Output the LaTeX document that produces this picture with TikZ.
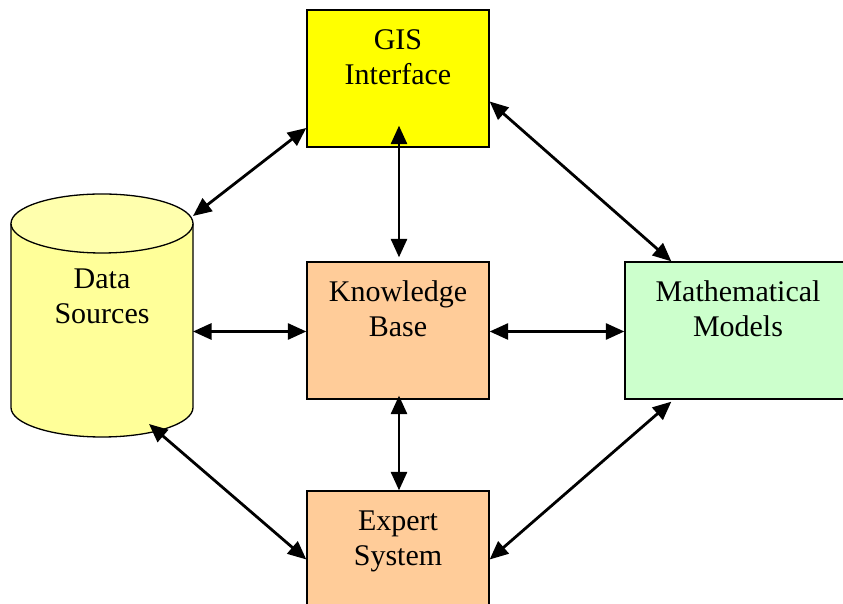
\documentclass[tikz,border=0pt]{standalone}
\usepackage{fontspec}
\setmainfont{Liberation Serif}
\usetikzlibrary{arrows.meta,calc}
\definecolor{gisyellow}{HTML}{FFFF00}
\definecolor{peach}{HTML}{FFCC99}
\definecolor{mint}{HTML}{CCFFCC}
\definecolor{paleyellow}{HTML}{FFFF99}
\tikzset{
  box/.style={draw=black, line width=1.3pt, rectangle, minimum width=182pt,
    minimum height=137pt, inner sep=0pt},
  lbl/.style={font=\fontsize{30pt}{35pt}\selectfont, align=center, inner sep=0pt, anchor=base},
  link/.style={line width=2.8pt, {Triangle[length=18.5pt,width=16pt]}-{Triangle[length=18.5pt,width=16pt]}}
}
\begin{document}
\begin{tikzpicture}[x=1pt,y=1pt]
\clip (0,0) rectangle (843,604);
\fill[white] (0,0) rectangle (843,604);

% boxes
\node[box, fill=gisyellow] (gis) at (398,525.5) {};
\node[box, fill=peach] (kb) at (398,273.5) {};
\node[box, fill=peach] (es) at (398,44.5) {};
\node[box, fill=mint, minimum width=222pt] (mm) at (736,273.5) {};

% data store drawn as a cylinder
\fill[paleyellow] (11,380.5) -- (11,196.5)
  arc[start angle=180, end angle=360, x radius=91pt, y radius=29.5pt]
  -- (193,380.5)
  arc[start angle=0, end angle=180, x radius=91pt, y radius=29.5pt] -- cycle;
\draw[line width=1.3pt] (11,380.5) -- (11,196.5)
  arc[start angle=180, end angle=360, x radius=91pt, y radius=29.5pt]
  -- (193,380.5);
\draw[line width=1.3pt, fill=paleyellow!80!white] (102,380.5) ellipse[x radius=91pt, y radius=29.5pt];
\coordinate (dsNE) at (193,388);
\coordinate (dsE) at (193,272.5);
\coordinate (dsS) at (149,180);

% labels (base anchor sits on the last line)
\node[lbl] (gisT) at ($(gis.north)+(0,-75)$) {GIS\\Interface};
\node[lbl] (kbT) at ($(kb.north)+(0,-75)$) {Knowledge\\Base};
\node[lbl] (esT) at ($(es.north)+(0,-75)$) {Expert\\System};
\node[lbl] (mmT) at ($(mm.north)+(2,-75)$) {Mathematical\\Models};
\node[lbl] (ds) at (102,280) {Data\\Sources};

% connectors
\draw[link] (dsNE) -- ([yshift=-49.5pt]gis.west);
\draw[link] ([xshift=1pt,yshift=22pt]gis.south) -- ([xshift=1pt,yshift=4pt]kb.north);
\draw[link] ([yshift=-23pt]gis.east) -- ([xshift=47pt]mm.north west);
\draw[link] (dsE) -- ([yshift=-1pt]kb.west);
\draw[link] ([yshift=-1pt]kb.east) -- ([yshift=-1pt]mm.west);
\draw[link] ([xshift=1pt,yshift=4pt]kb.south) -- ([xshift=1pt]es.north);
\draw[link] (dsS) -- ([yshift=0pt]es.west);
\draw[link] (es.east) -- ([xshift=47pt,yshift=-2pt]mm.south west);
\end{tikzpicture}
\end{document}
